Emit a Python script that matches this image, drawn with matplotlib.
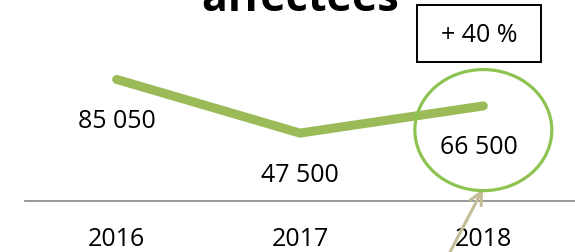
import matplotlib
matplotlib.use("Agg")
import matplotlib.pyplot as plt
from matplotlib.patches import Ellipse, Rectangle

plt.rcParams['font.family'] = ['Open Sans', 'DejaVu Sans']

years = ['2016', '2017', '2018']
values = [85050, 47500, 66500]
labels = ['85 050', '47 500', '66 500']
title = 'affectées'
change_text = '+ 40 %'

line_green = '#9bbb59'
ring_green = '#8dc351'
arrow_tan = '#c4bd97'

W, H = 575, 253
fig = plt.figure(figsize=(W / 100, H / 100), dpi=100)
ax = fig.add_axes([25 / W, 51 / H, 550 / W, 202 / H])

x = list(range(len(years)))
ax.plot(x, values, color=line_green, linewidth=6.5, solid_capstyle='round',
        solid_joinstyle='miter', zorder=3)

# value labels under each point
label_dx = [0, 0, -4]
for xi, v, lab, dx in zip(x, values, labels, label_dx):
    ax.annotate(lab, (xi, v), xytext=(dx, -41), textcoords='offset pixels',
                ha='center', va='center', fontsize=18)

ax.set_xlim(-0.5, 2.5)
ax.set_ylim(0, 141300)
ax.set_xticks(x)
ax.set_xticklabels(years, fontsize=18)
ax.tick_params(axis='x', length=0, pad=18)
ax.set_yticks([])
for s in ['top', 'left', 'right']:
    ax.spines[s].set_visible(False)
ax.spines['bottom'].set_color('#868686')
ax.spines['bottom'].set_linewidth(1.2)
ax.patch.set_alpha(0)

# ring around the 2018 point
ring = Ellipse((2.0, 49600), width=0.747, height=84700, fill=False,
               edgecolor=ring_green, linewidth=2.3, zorder=4, clip_on=False)
ax.add_patch(ring)

# boxed change
fig.patches.append(Rectangle((417 / W, 1 - 63 / H), 124 / W, 57 / H,
                             transform=fig.transFigure, fill=False,
                             edgecolor='black', linewidth=1.4))
fig.text(479 / W, 1 - 35 / H, change_text, ha='center', va='center', fontsize=18)

# arrow pointing at the ring
ax.annotate('', xy=(483, H - 190), xytext=(450, 0),
            xycoords='figure pixels', textcoords='figure pixels',
            arrowprops=dict(arrowstyle='->', color=arrow_tan, lw=2.2,
                            mutation_scale=22, shrinkA=0, shrinkB=0),
            annotation_clip=False)

# title, mostly cut off at the top
fig.text(300 / W, 1 - 11 / H, title, ha='center', va='baseline',
         fontsize=31, fontweight='bold')

fig.savefig('out.png', dpi=100)
